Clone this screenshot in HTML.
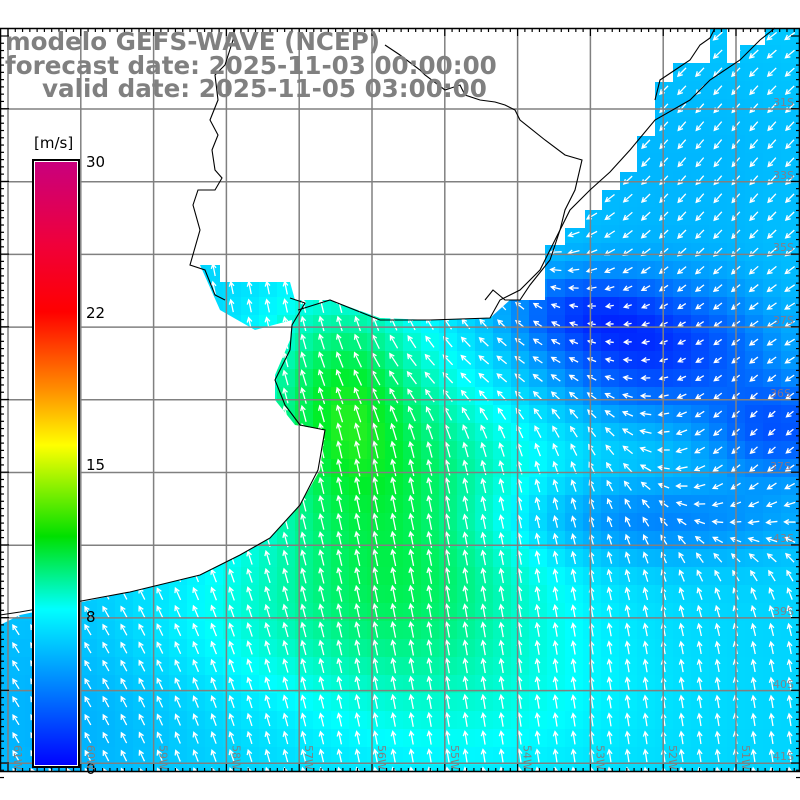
<!DOCTYPE html>
<html><head><meta charset="utf-8"><style>
html,body{margin:0;padding:0;background:#fff;}
svg{display:block;}
</style></head><body>
<svg id="s" width="800" height="800" xmlns="http://www.w3.org/2000/svg" font-family="DejaVu Sans, Liberation Sans, sans-serif">
<defs>
<clipPath id="ocean"><polygon points="0,625 20,615 130,592 200,575 240,555 270,538 300,505 320,470 325,430 295,425 275,400 275,375 290,340 292,320 255,330 220,310 200,265 220,265 220,282 290,282 295,300 330,300 380,318 430,320 490,318 510,300 545,300 545,245 565,245 565,228 585,228 585,210 602,210 602,190 620,190 620,172 637,172 637,136 655,136 655,82 673,82 673,63 710,63 710,28 727,28 727,63 740,63 740,45 765,45 765,28 800,28 800,772 0,772"/></clipPath>
<linearGradient id="cb" x1="0" y1="0" x2="0" y2="1">
<stop offset="0" stop-color="#c8007f"/>
<stop offset="0.14" stop-color="#f0003a"/>
<stop offset="0.25" stop-color="#ff0000"/>
<stop offset="0.38" stop-color="#ff9000"/>
<stop offset="0.47" stop-color="#ffff00"/>
<stop offset="0.62" stop-color="#00e000"/>
<stop offset="0.74" stop-color="#00ffff"/>
<stop offset="1" stop-color="#0000ff"/>
</linearGradient>
</defs>
<g id="cells" clip-path="url(#ocean)"></g>
<g id="arrows" clip-path="url(#ocean)" stroke="#fff" stroke-width="1.3" fill="none"></g>
<g id="grid" stroke="#808080" stroke-width="1.5"></g>
<g fill="none" stroke="#000" stroke-width="1.1">
<polyline points="0,615 20,612 60,605 130,592 200,575 240,555 270,538 300,505 318,470 325,430 300,425 285,405 275,380 290,350 292,325 305,303 290,298"/>
<polyline points="298,310 330,300 380,320 430,320 490,318 500,300 520,290 540,270 555,240 570,210 590,190 610,172 630,150 655,120 690,100 710,80 740,60 760,40 775,28"/>
<polyline points="235,28 233,40 225,65 215,75 218,100 210,120 218,135 212,150 215,170 222,178 215,190 198,190 193,205 200,230 190,265 205,270 215,295 225,300"/>
<polyline points="485,300 493,290 505,300 520,300 530,285 550,260 560,230 565,210 575,190 582,160 565,155 545,140 520,120 515,110 505,105 495,102 480,100 465,95 460,85 445,90 425,75 420,70 400,55 385,45"/>
<polyline points="655,100 660,80 675,70 690,60 700,45 710,38 715,28"/>
</g>
<rect x="0.5" y="28.5" width="799" height="743" fill="none" stroke="#000" stroke-width="1.5"/>
<g id="ticks" stroke="#000" stroke-width="1.2"></g>
<g font-weight="bold" font-size="24.6" fill="#808080">
<text x="5" y="50">modelo GEFS-WAVE (NCEP)</text>
<text x="5" y="74">forecast date: 2025-11-03 00:00:00</text>
<text x="42" y="97">valid date: 2025-11-05 03:00:00</text>
</g>
<rect x="33" y="160" width="46" height="607" fill="url(#cb)" stroke="#000" stroke-width="2"/>
<rect x="34.5" y="161.5" width="43" height="604" fill="none" stroke="#fff" stroke-width="1"/>
<g font-size="15" fill="#000">
<text x="34" y="148">[m/s]</text>
<text x="86" y="167">30</text>
<text x="86" y="318">22</text>
<text x="86" y="470">15</text>
<text x="86" y="622">8</text>
<text x="86" y="774">0</text>
</g>
<g font-size="11" fill="#a07070" opacity="0.8">
<text x="773" y="106">31S</text><text x="773" y="179">33S</text><text x="773" y="251">35S</text>
<text x="773" y="324">37S</text><text x="770" y="397">36S</text><text x="770" y="470">37S</text>
<text x="773" y="542">43S</text><text x="773" y="615">39S</text><text x="773" y="688">40S</text><text x="773" y="760">41S</text>
</g>
<g id="lonl" font-size="11" fill="#808080"></g>
</svg>
<script>
const NS="http://www.w3.org/2000/svg";
function el(t,a,p){const e=document.createElementNS(NS,t);for(const k in a)e.setAttribute(k,a[k]);p.appendChild(e);return e;}
function g(x,y,cx,cy,sx,sy){return Math.exp(-((x-cx)**2/(2*sx*sx)+(y-cy)**2/(2*sy*sy)));}
function speed(x,y){
 let v=6.8;
 v+=4.4*g(x,y,400,520,100,100);
 v+=3.8*g(x,y,340,390,55,70);
 v+=1.2*g(x,y,300,620,150,50);
 v+=1.2*g(x,y,480,700,120,60);
 v-=4.5*g(x,y,650,350,80,45);
 v-=3.5*g(x,y,780,430,50,35);
 v-=2.5*g(x,y,580,310,50,25);
 v-=2.3*g(x,y,640,520,120,30);
 v-=0.8*g(x,y,680,180,150,130);
 v-=1.0*g(x,y,60,700,90,120);
 return Math.max(0,v);
}
const stops=[[0,[0,0,255]],[4,[0,110,255]],[8,[0,255,255]],[10,[0,245,150]],[12,[0,238,40]],[16,[255,255,0]],[22,[255,0,0]],[30,[200,0,130]]];
function col(v){for(let i=0;i<stops.length-1;i++){const[a,ca]=stops[i],[b,cb]=stops[i+1];if(v<=b){const t=(v-a)/(b-a);return `rgb(${ca.map((c,j)=>Math.round(c+(cb[j]-c)*t)).join(",")})`;}}return "rgb(200,0,130)";}
const cells=document.getElementById("cells"),arr=document.getElementById("arrows");
for(let y=-9;y<772;y+=18)for(let x=-11;x<800;x+=18){
 const cx=x+9,cy=y+9;
 el("rect",{x:x,y:y,width:18,height:18,fill:col(speed(cx,cy))},cells);
 let w2=g(cx,cy,720,150,170,180)+0.6*g(cx,cy,760,460,80,80);
 let w1=1-Math.min(1,w2);
 let dx=w1*(-0.15-0.5*g(cx,cy,0,650,180,200)-0.6*g(cx,cy,480,370,90,35))+w2*(-0.75);
 let dy=w1*(-1)+w2*(0.9);
 const L=Math.hypot(dx,dy)||1;dx/=L;dy/=L;
 const len=6+speed(cx,cy)*0.9;
 const x0=cx-dx*len/2,y0=cy-dy*len/2,x1=cx+dx*len/2,y1=cy+dy*len/2;
 const h=5,a=0.5;
 const bx=-dx,by=-dy;
 const p1=[x1+h*(bx*Math.cos(a)-by*Math.sin(a)),y1+h*(bx*Math.sin(a)+by*Math.cos(a))];
 const p2=[x1+h*(bx*Math.cos(-a)-by*Math.sin(-a)),y1+h*(bx*Math.sin(-a)+by*Math.cos(-a))];
 el("path",{d:`M${x0},${y0}L${x1},${y1}M${p1}L${x1},${y1}L${p2}`},arr);
}
const grid=document.getElementById("grid");
for(let i=0;i<11;i++){const x=8+i*72.8;el("line",{x1:x,y1:28,x2:x,y2:772},grid);}
for(let i=0;i<10;i++){const y=109+i*72.7;el("line",{x1:0,y1:y,x2:800,y2:y},grid);}
const tk=document.getElementById("ticks");
for(let i=0;i<110;i++){const x=8+i*7.28;const big=i%10==0;
 el("line",{x1:x,y1:28,x2:x,y2:28+(big?8:4)},tk);el("line",{x1:x,y1:772,x2:x,y2:772-(big?8:4)},tk);}
for(let i=0;i<103;i++){const y=36+i*7.27;const big=(i%10==0);
 el("line",{x1:0,y1:y,x2:big?9:4,y2:y},tk);el("line",{x1:800,y1:y,x2:800-(big?9:4),y2:y},tk);}
const ll=document.getElementById("lonl");
const names=["61W","60W","59W","58W","57W","56W","55W","54W","53W","52W","51W"];
names.forEach((n,i)=>{const x=14+i*72.8;el("text",{x:0,y:0,transform:`translate(${x},745) rotate(90)`},ll).textContent=n;});
</script>
</body></html>
